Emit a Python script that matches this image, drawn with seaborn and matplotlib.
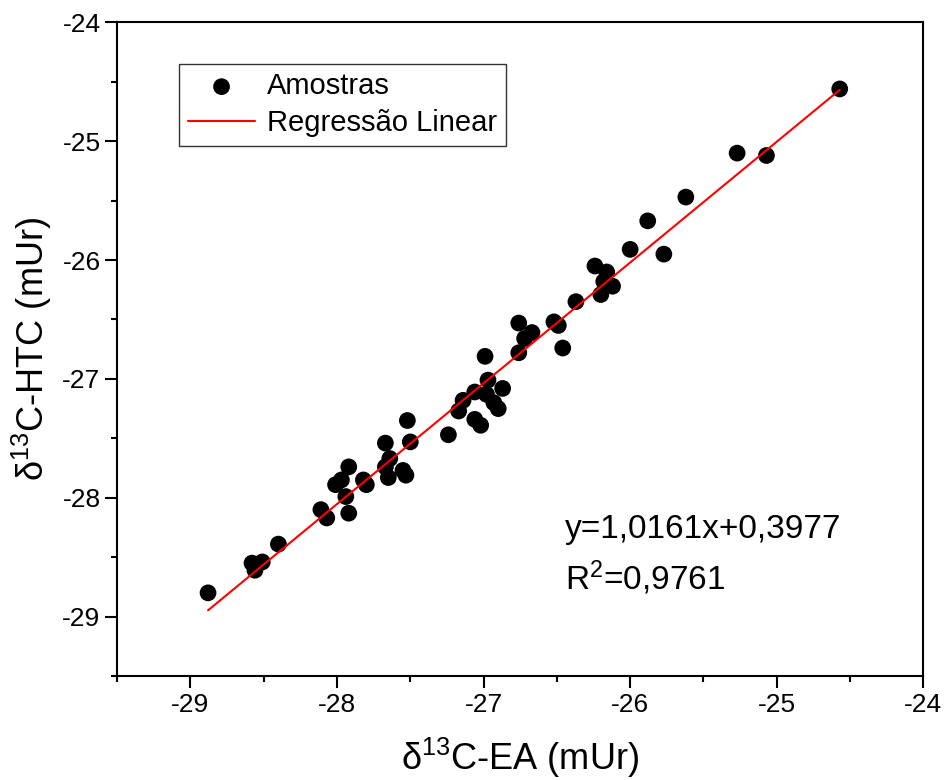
import numpy as np
import pandas as pd
import matplotlib
matplotlib.use("Agg")
import matplotlib.pyplot as plt
from matplotlib.ticker import MultipleLocator
import seaborn as sns

# d13C values (EA vs HTC)
ea = [-28.88, -28.58, -28.51, -28.56, -28.40, -28.11, -28.07, -28.01, -27.97, -27.92,
      -27.94, -27.92, -27.82, -27.80, -27.67, -27.64, -27.67, -27.65, -27.55, -27.53,
      -27.52, -27.50, -27.24, -27.17, -27.14, -27.06, -27.06, -27.02, -26.97, -26.98,
      -26.93, -26.90, -26.87, -26.99, -26.76, -26.76, -26.72, -26.67, -26.52, -26.49,
      -26.46, -26.37, -26.24, -26.16, -26.18, -26.20, -26.12, -26.00, -25.88, -25.77,
      -25.62, -25.27, -25.07, -24.57]
htc = [-28.80, -28.55, -28.54, -28.61, -28.39, -28.10, -28.17, -27.89, -27.85, -27.74,
       -27.99, -28.13, -27.85, -27.89, -27.54, -27.67, -27.74, -27.83, -27.77, -27.81,
       -27.35, -27.53, -27.47, -27.27, -27.18, -27.11, -27.34, -27.39, -27.01, -27.13,
       -27.20, -27.25, -27.08, -26.81, -26.78, -26.53, -26.66, -26.61, -26.52, -26.55,
       -26.74, -26.35, -26.05, -26.10, -26.18, -26.29, -26.22, -25.91, -25.67, -25.95,
       -25.47, -25.10, -25.12, -24.56]

slope = 1.0161
intercept = 0.3977
eq_text = "y=1,0161x+0,3977"
r2_text = "R$^2$=0,9761"

sns.set_theme(style="ticks")
plt.rcParams["font.family"] = ["Liberation Sans", "DejaVu Sans"]
plt.rcParams["mathtext.fontset"] = "custom"
plt.rcParams["mathtext.rm"] = "Liberation Sans"
plt.rcParams["mathtext.it"] = "Liberation Sans:italic"
plt.rcParams["axes.unicode_minus"] = False
plt.rcParams["axes.linewidth"] = 1.5
plt.rcParams["text.color"] = "black"
plt.rcParams["axes.labelcolor"] = "black"

df = pd.DataFrame({"ea": ea, "htc": htc})
x_fit = np.array([df["ea"].min(), df["ea"].max()])
fit = pd.DataFrame({"ea": x_fit, "htc": slope * x_fit + intercept})

fig = plt.figure(figsize=(9.45, 7.8), dpi=100)
ax = fig.add_axes([0.124, 0.1333, 0.853, 0.838])

sns.scatterplot(data=df, x="ea", y="htc", ax=ax, color="black", s=145,
                edgecolor="none", label="Amostras", zorder=3)
sns.lineplot(data=fit, x="ea", y="htc", ax=ax, color="red", linewidth=1.5,
             label="Regressão Linear", zorder=4)

ax.set_xlim(-29.5, -24)
ax.set_ylim(-29.5, -24)
ax.xaxis.set_major_locator(MultipleLocator(1))
ax.yaxis.set_major_locator(MultipleLocator(1))
ax.xaxis.set_minor_locator(MultipleLocator(0.5))
ax.yaxis.set_minor_locator(MultipleLocator(0.5))
ax.tick_params(which="major", direction="out", length=8.5, width=1.5,
               labelsize=19, color="black", labelcolor="black")
ax.tick_params(which="minor", direction="out", length=4.5, width=1.5, color="black")
for sp in ax.spines.values():
    sp.set_color("black")
    sp.set_linewidth(1.5)

ax.set_xlabel("δ$^{13}$C-EA (mUr)", fontsize=26, labelpad=14)
ax.set_ylabel("δ$^{13}$C-HTC (mUr)", fontsize=26, labelpad=6)

leg = ax.legend(loc="upper left", bbox_to_anchor=(0.077, 0.937), fontsize=21,
                frameon=True, fancybox=False, edgecolor="black",
                borderpad=0.3, handlelength=2.3, handletextpad=0.4,
                labelspacing=0.3, borderaxespad=0)
leg.get_frame().set_linewidth(1.0)

ax.text(0.556, 0.2235, eq_text, transform=ax.transAxes, fontsize=24,
        va="center", ha="left")
ax.text(0.556, 0.151, r2_text, transform=ax.transAxes, fontsize=24,
        va="center", ha="left")

fig.savefig("out.png", dpi=100)
plt.close(fig)
